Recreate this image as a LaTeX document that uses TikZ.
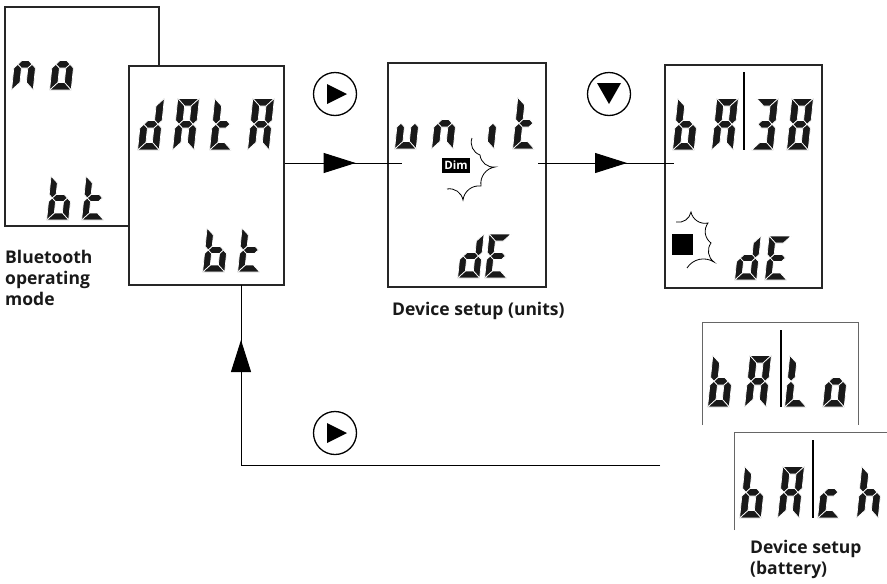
\documentclass[tikz,border=0pt]{standalone}
\usepackage{fontspec}
\setsansfont{Open Sans}
\usetikzlibrary{arrows.meta,decorations.markings}

% size of the lcd digits: width, height, half thickness
\newcommand\lcdw{14}
\newcommand\lcdh{44}
\newcommand\lcdq{3.8}
\newcommand\lcdsize[3]{\renewcommand\lcdw{#1}\renewcommand\lcdh{#2}\renewcommand\lcdq{#3}}

% the seven segments, origin at bottom left, y pointing down
\newcommand\lcdsega{\fill[lcdseg] (-\lcdq,-\lcdh-\lcdq) -- (\lcdw+\lcdq,-\lcdh-\lcdq) -- (\lcdw-\lcdq,-\lcdh+\lcdq) -- (\lcdq,-\lcdh+\lcdq) -- cycle;}
\newcommand\lcdsegb{\fill[lcdseg] (\lcdw+\lcdq,-\lcdh-\lcdq) -- (\lcdw-\lcdq,-\lcdh+\lcdq) -- (\lcdw-\lcdq,-\lcdh/2-\lcdq) -- (\lcdw,-\lcdh/2) -- (\lcdw+\lcdq,-\lcdh/2-\lcdq) -- cycle;}
\newcommand\lcdsegc{\fill[lcdseg] (\lcdw,-\lcdh/2) -- (\lcdw-\lcdq,-\lcdh/2+\lcdq) -- (\lcdw-\lcdq,-\lcdq) -- (\lcdw+\lcdq,\lcdq) -- (\lcdw+\lcdq,-\lcdh/2+\lcdq) -- cycle;}
\newcommand\lcdsegd{\fill[lcdseg] (-\lcdq,\lcdq) -- (\lcdw+\lcdq,\lcdq) -- (\lcdw-\lcdq,-\lcdq) -- (\lcdq,-\lcdq) -- cycle;}
\newcommand\lcdsege{\fill[lcdseg] (0,-\lcdh/2) -- (\lcdq,-\lcdh/2+\lcdq) -- (\lcdq,-\lcdq) -- (-\lcdq,\lcdq) -- (-\lcdq,-\lcdh/2+\lcdq) -- cycle;}
\newcommand\lcdsegf{\fill[lcdseg] (-\lcdq,-\lcdh-\lcdq) -- (\lcdq,-\lcdh+\lcdq) -- (\lcdq,-\lcdh/2-\lcdq) -- (0,-\lcdh/2) -- (-\lcdq,-\lcdh/2-\lcdq) -- cycle;}
\newcommand\lcdsegg{\fill[lcdseg] (0,-\lcdh/2) -- (\lcdq,-\lcdh/2-\lcdq) -- (\lcdw-\lcdq,-\lcdh/2-\lcdq) -- (\lcdw,-\lcdh/2) -- (\lcdw-\lcdq,-\lcdh/2+\lcdq) -- (\lcdq,-\lcdh/2+\lcdq) -- cycle;}

\newcommand\lcdchar[2]{\begin{scope}[shift={(#1)},xslant=0.1]
\foreach \s in {#2} {\csname lcdseg\s\endcsname}
\end{scope}}

\tikzset{arrowmid/.style={postaction={decorate},
  decoration={markings, mark=at position #1 with {\arrow{Triangle[length=32pt,width=20pt]}}}}}

\begin{document}
\begin{tikzpicture}[x=1pt,y=-1pt]
\tikzstyle{lcdbox}=[draw=black!85, line width=1.3pt, fill=white, inner sep=0pt]
\tikzstyle{lcdseg}=[fill=black!90, draw=white, line width=0.7pt, line join=round]
\tikzstyle{batbox}=[draw=black!60, line width=0.9pt]
\tikzstyle{flow}=[draw=black, line width=1pt]
\tikzstyle{burst}=[draw=black, line width=0.8pt]
\tikzstyle{infotext}=[font=\sffamily\bfseries\fontsize{17.5}{21}\selectfont, text=black!90, inner sep=0pt, align=left]
\tikzstyle{dimtag}=[fill=black, text=white, font=\sffamily\bfseries\fontsize{11.5}{11.5}\selectfont, minimum width=28pt, minimum height=15pt, inner sep=0pt]
\tikzstyle{playbtn}=[circle, draw, line width=1.3pt, minimum size=43pt, inner sep=0pt,
  path picture={\fill ([shift={(-8,-10)}]path picture bounding box.center) -- ([shift={(12,0)}]path picture bounding box.center) -- ([shift={(-8,10)}]path picture bounding box.center) -- cycle;}]
\tikzstyle{downbtn}=[circle, draw, line width=1.3pt, minimum size=43pt, inner sep=0pt,
  path picture={\fill ([shift={(-12,-11)}]path picture bounding box.center) -- ([shift={(12,-11)}]path picture bounding box.center) -- ([shift={(0,10)}]path picture bounding box.center) -- cycle;}]

\useasboundingbox (0,0) rectangle (887,584);

% no bt
\node[lcdbox, minimum width=154pt, minimum height=219pt] (nobox) at (82,116.5) {};
\lcdsize{14}{44}{3.8}
\lcdchar{15.8,86.2}{c,e,g}
\lcdchar{53.8,86.2}{c,d,e,g}
\lcdsize{15}{37}{3.5}
\lcdchar{50.5,216.5}{c,d,e,f,g}
\lcdchar{85.5,216.5}{d,e,f,g}

% dAtA bt
\node[lcdbox, minimum width=155pt, minimum height=219pt] (databox) at (206.5,175.5) {};
\lcdsize{14}{44}{3.8}
\lcdchar{141.8,146.2}{b,c,d,e,g}
\lcdchar{176.8,146.2}{a,b,c,e,f,g}
\lcdchar{213.8,146.2}{d,e,f,g}
\lcdchar{251.8,146.2}{a,b,c,e,f,g}
\lcdsize{15}{37}{3.5}
\lcdchar{206.5,268.5}{c,d,e,f,g}
\lcdchar{241.5,268.5}{d,e,f,g}

% unit dE
\node[lcdbox, minimum width=158pt, minimum height=224pt] (unitbox) at (467,175) {};
\lcdsize{14}{44}{3.8}
\lcdchar{398.8,145.2}{c,d,e}
\lcdchar{435.8,145.2}{c,e,g}
\lcdchar{476.8,145.2}{c}
\lcdchar{516.8,145.2}{d,e,f,g}
\lcdsize{15}{37}{3.5}
\lcdchar{461.5,274.5}{b,c,d,e,g}
\lcdchar{488.5,274.5}{a,d,e,f,g}
\node[dimtag] (dimtag) at (456,165.5) {Dim};
\draw[burst] (472,138) to[bend right=45] (480,155) to[bend right=45] (495,167)
  to[bend right=45] (481,186) to[bend right=45] (463,200) to[bend right=45] (447,189);

% bA38 dE
\node[lcdbox, minimum width=157pt, minimum height=223pt] (baudbox) at (743.5,176.5) {};
\lcdsize{14}{44}{3.8}
\lcdchar{676.8,146.2}{c,d,e,f,g}
\lcdchar{715.8,146.2}{a,b,c,e,f,g}
\lcdchar{755.8,146.2}{a,b,c,d,g}
\lcdchar{790.8,146.2}{a,b,c,d,e,f,g}
\draw[line width=2pt] (744,72) -- (744,150);
\lcdsize{15}{37}{3.5}
\lcdchar{738.5,276.5}{b,c,d,e,g}
\lcdchar{768.5,276.5}{a,d,e,f,g}
\node[fill=black, minimum size=21pt, inner sep=0pt] (lockmark) at (682.5,244) {};
\draw[burst] (676,222) to[bend right=45] (691,212) to[bend right=45] (708,223)
  to[bend right=45] (711,243) to[bend right=45] (714,262) to[bend right=45] (687,268);

% bALo / bACh
\draw[batbox] (702,425) -- (702,322) -- (858,322) -- (858,425);
\lcdsize{14}{44}{3.8}
\lcdchar{711.8,403.2}{c,d,e,f,g}
\lcdchar{748.8,403.2}{a,b,c,e,f,g}
\lcdchar{788.8,403.2}{d,e,f}
\lcdchar{826.8,403.2}{c,d,e,g}
\draw[line width=2pt] (781,330) -- (781,407);
\draw[batbox] (734,530) -- (734,432) -- (887,432);
\lcdchar{743.8,514.2}{c,d,e,f,g}
\lcdchar{781.8,514.2}{a,b,c,e,f,g}
\lcdchar{821.8,514.2}{d,e,g}
\lcdchar{860.8,514.2}{c,e,f,g}
\draw[line width=2pt] (813,440) -- (813,518);

% buttons
\node[playbtn] (unitbtn) at (335,94) {};
\node[downbtn] (baudbtn) at (609,94) {};
\node[playbtn] (backbtn) at (335,433) {};

% connectors
\coordinate (unitin) at (402,163);
\coordinate (unitout) at (538,163);
\coordinate (baudin) at (674,163);
\coordinate (batend) at (660,465);
\coordinate (datain) at (241,285);
\draw[flow, arrowmid=71pt] (databox.east |- unitin) -- (unitin);
\draw[flow, arrowmid=89pt] (unitout) -- (baudin);
\draw[flow, arrowmid=544pt] (batend) -| (datain);

% texts
\node[infotext, anchor=north west] (btmode) at (5,250) {Bluetooth\\operating\\mode};
\node[infotext, anchor=north west] (unitsetup) at (392,302) {Device setup (units)};
\node[infotext, anchor=north west] (batsetup) at (750,540) {Device setup\\(battery)};
\end{tikzpicture}
\end{document}
